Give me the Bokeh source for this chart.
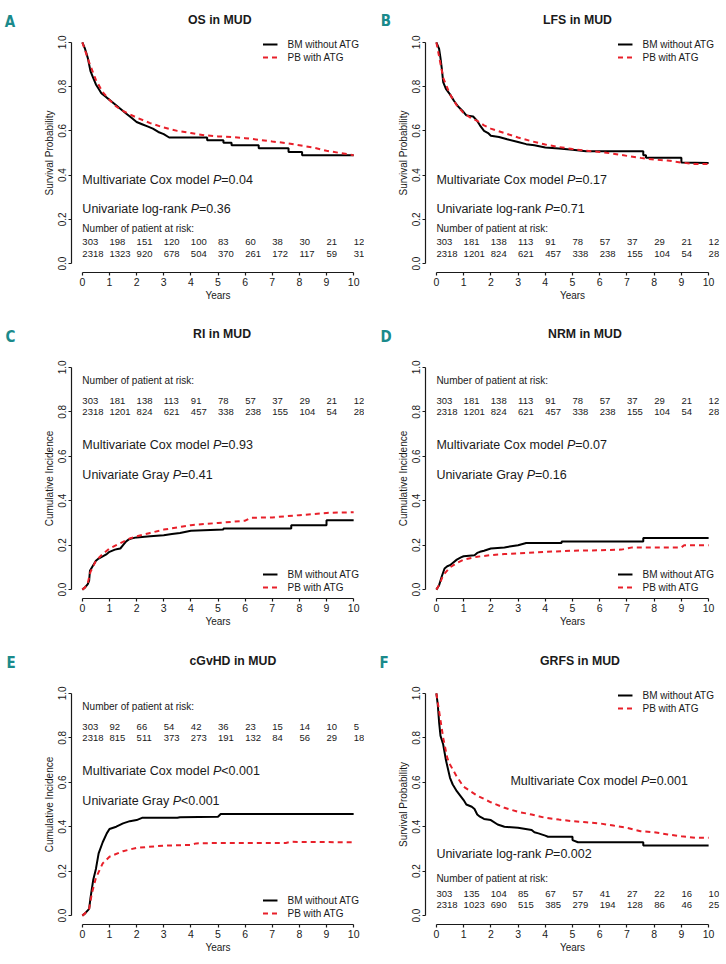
from bokeh.plotting import figure
from bokeh.layouts import column, row
from bokeh.models import (Range1d, FixedTicker, PrintfTickFormatter, Label,
                          Legend, LegendItem, ColumnDataSource, Div)
from bokeh.core.properties import value
from bokeh.embed import file_html
from bokeh.resources import INLINE

# ---------------- data ----------------
years_ticks = list(range(11))

# A: OS
tA_bm = [0, 0.05, 0.1, 0.15, 0.2, 0.25, 0.3, 0.4, 0.5, 0.6, 0.7, 0.85, 1.0, 1.2, 1.4, 1.6, 1.8, 2.0, 2.2, 2.4, 2.6,
         2.8, 3.0, 3.2, 4.6, 4.6, 5.2, 5.2, 5.5, 5.5, 6.5, 6.5, 7.6, 7.6, 8.1, 8.1, 10]
vA_bm = [1.0, 0.985, 0.97, 0.95, 0.93, 0.90, 0.87, 0.84, 0.81, 0.79, 0.77, 0.755, 0.74, 0.72, 0.70, 0.68, 0.66, 0.64,
         0.63, 0.62, 0.61, 0.595, 0.585, 0.57, 0.57, 0.558, 0.558, 0.546, 0.546, 0.535, 0.535, 0.522, 0.522, 0.505,
         0.505, 0.49, 0.49]
tA_pb = [0, 0.25, 0.5, 0.75, 1.0, 1.25, 1.5, 1.75, 2.0, 2.5, 3.0, 3.5, 4.0, 4.5, 5.0, 5.5, 6.0, 6.5, 7.0, 7.5, 8.0,
         8.5, 9.0, 9.5, 10]
vA_pb = [1.0, 0.91, 0.83, 0.775, 0.74, 0.71, 0.69, 0.675, 0.66, 0.635, 0.615, 0.60, 0.59, 0.58, 0.575, 0.572, 0.567,
         0.56, 0.552, 0.545, 0.535, 0.525, 0.51, 0.50, 0.49]

# B: LFS
tB_bm = [0, 0.05, 0.1, 0.15, 0.2, 0.25, 0.35, 0.5, 0.65, 0.8, 1.0, 1.1, 1.35, 1.5, 1.6, 1.75, 1.9, 2.0, 2.3, 2.6,
         3.0, 3.3, 3.6, 4.0, 4.5, 5.0, 5.5, 7.6, 7.6, 7.7, 7.7, 9.0, 9.0, 10]
vB_bm = [1.0, 0.985, 0.97, 0.93, 0.88, 0.82, 0.79, 0.765, 0.735, 0.71, 0.685, 0.67, 0.665, 0.645, 0.625, 0.60, 0.59,
         0.578, 0.572, 0.562, 0.55, 0.54, 0.535, 0.525, 0.52, 0.515, 0.508, 0.508, 0.49, 0.49, 0.478, 0.478, 0.457,
         0.455]
tB_pb = [0, 0.25, 0.5, 0.75, 1.0, 1.25, 1.5, 1.75, 2.0, 2.5, 3.0, 3.5, 4.0, 4.5, 5.0, 5.5, 6.0, 6.5, 7.0, 7.5, 8.0,
         8.5, 9.0, 9.5, 10]
vB_pb = [1.0, 0.84, 0.765, 0.715, 0.68, 0.66, 0.645, 0.625, 0.61, 0.59, 0.57, 0.553, 0.538, 0.527, 0.518, 0.51,
         0.505, 0.497, 0.487, 0.478, 0.47, 0.466, 0.457, 0.45, 0.45]

# C: RI
tC_bm = [0, 0.1, 0.2, 0.25, 0.28, 0.4, 0.5, 0.6, 0.75, 0.9, 1.0, 1.2, 1.3, 1.4, 1.5, 1.6, 1.7, 1.8, 2.0, 2.5, 3.0,
         3.3, 3.6, 4.0, 5.2, 5.2, 7.7, 7.7, 9.0, 9.0, 10]
vC_bm = [0, 0.01, 0.025, 0.04, 0.085, 0.11, 0.13, 0.14, 0.15, 0.16, 0.17, 0.18, 0.183, 0.185, 0.20, 0.215, 0.225,
         0.23, 0.235, 0.24, 0.245, 0.25, 0.255, 0.265, 0.27, 0.275, 0.275, 0.29, 0.29, 0.312, 0.312]
tC_pb = [0, 0.1, 0.2, 0.3, 0.5, 0.75, 1.0, 1.25, 1.5, 1.75, 2.0, 2.5, 3.0, 3.5, 4.0, 4.5, 5.0, 5.5, 6.0, 6.2, 7.0,
         7.5, 8.0, 8.5, 9.0, 9.5, 10]
vC_pb = [0, 0.01, 0.03, 0.08, 0.13, 0.16, 0.185, 0.20, 0.215, 0.23, 0.24, 0.255, 0.27, 0.28, 0.29, 0.295, 0.30,
         0.305, 0.31, 0.323, 0.325, 0.33, 0.335, 0.34, 0.345, 0.347, 0.348]

# D: NRM
tD_bm = [0, 0.1, 0.2, 0.3, 0.4, 0.5, 0.6, 0.75, 0.9, 1.0, 1.4, 1.5, 1.6, 1.75, 2.0, 2.5, 2.75, 3.0, 3.3, 4.6, 4.6,
         7.6, 7.6, 10]
vD_bm = [0, 0.02, 0.06, 0.095, 0.105, 0.11, 0.12, 0.135, 0.145, 0.15, 0.155, 0.165, 0.17, 0.175, 0.185, 0.19, 0.195,
         0.20, 0.21, 0.21, 0.217, 0.217, 0.232, 0.232]
tD_pb = [0, 0.1, 0.25, 0.5, 0.75, 1.0, 1.5, 2.0, 2.5, 3.0, 4.0, 5.0, 6.0, 6.8, 7.2, 9.0, 9.1, 10]
vD_pb = [0, 0.02, 0.065, 0.10, 0.12, 0.135, 0.148, 0.155, 0.16, 0.163, 0.17, 0.175, 0.177, 0.18, 0.19, 0.19, 0.20,
         0.20]

# E: cGvHD
tE_bm = [0, 0.1, 0.25, 0.3, 0.35, 0.4, 0.5, 0.6, 0.75, 0.9, 1.0, 1.25, 1.5, 1.75, 2.0, 2.2, 3.5, 3.6, 5.0, 5.1, 10]
vE_bm = [0, 0.01, 0.03, 0.08, 0.12, 0.16, 0.21, 0.28, 0.33, 0.37, 0.39, 0.40, 0.415, 0.425, 0.43, 0.44, 0.44, 0.443,
         0.445, 0.457, 0.457]
tE_pb = [0, 0.1, 0.25, 0.35, 0.5, 0.75, 1.0, 1.5, 2.0, 3.0, 4.0, 4.2, 5.0, 7.5, 7.7, 10]
vE_pb = [0, 0.01, 0.03, 0.10, 0.17, 0.235, 0.265, 0.29, 0.305, 0.315, 0.318, 0.325, 0.327, 0.327, 0.332, 0.33]

# F: GRFS
tF_bm = [0, 0.05, 0.1, 0.15, 0.25, 0.35, 0.5, 0.6, 0.75, 1.0, 1.1, 1.3, 1.4, 1.5, 1.6, 1.75, 2.0, 2.25, 2.5, 3.0,
         3.5, 3.6, 3.75, 4.0, 4.1, 5.0, 5.0, 5.2, 7.6, 7.6, 10]
vF_bm = [1.0, 0.95, 0.87, 0.81, 0.77, 0.70, 0.62, 0.59, 0.56, 0.52, 0.50, 0.49, 0.48, 0.455, 0.445, 0.435, 0.43,
         0.41, 0.40, 0.395, 0.385, 0.375, 0.37, 0.36, 0.355, 0.355, 0.34, 0.33, 0.33, 0.316, 0.316]
tF_pb = [0, 0.1, 0.25, 0.4, 0.5, 0.75, 1.0, 1.5, 2.0, 2.5, 3.0, 3.5, 4.0, 4.5, 5.0, 5.5, 6.0, 6.5, 7.0, 7.5, 8.0,
         8.5, 9.0, 9.5, 10]
vF_pb = [1.0, 0.92, 0.80, 0.71, 0.68, 0.625, 0.58, 0.54, 0.51, 0.485, 0.467, 0.455, 0.44, 0.432, 0.425, 0.42, 0.415,
         0.405, 0.395, 0.38, 0.375, 0.365, 0.357, 0.35, 0.35]

# numbers at risk
riskA_bm = [303, 198, 151, 120, 100, 83, 60, 38, 30, 21, 12]
riskA_pb = [2318, 1323, 920, 678, 504, 370, 261, 172, 117, 59, 31]
riskBCD_bm = [303, 181, 138, 113, 91, 78, 57, 37, 29, 21, 12]
riskBCD_pb = [2318, 1201, 824, 621, 457, 338, 238, 155, 104, 54, 28]
riskE_bm = [303, 92, 66, 54, 42, 36, 23, 15, 14, 10, 5]
riskE_pb = [2318, 815, 511, 373, 273, 191, 132, 84, 56, 29, 18]
riskF_bm = [303, 135, 104, 85, 67, 57, 41, 27, 22, 16, 10]
riskF_pb = [2318, 1023, 690, 515, 385, 279, 194, 128, 86, 46, 25]

titles = ["OS in MUD", "LFS in MUD", "RI in MUD", "NRM in MUD", "cGvHD in MUD", "GRFS in MUD"]
letters = ["A", "B", "C", "D", "E", "F"]
ylabels = ["Survival Probability", "Survival Probability", "Cumulative Incidence",
           "Cumulative Incidence", "Cumulative Incidence", "Survival Probability"]
multi_p = ["=0.04", "=0.17", "=0.93", "=0.07", "<0.001", "=0.001"]
uni_test = ["Univariate log-rank ", "Univariate log-rank ", "Univariate Gray ", "Univariate Gray ",
            "Univariate Gray ", "Univariate log-rank "]
uni_p = ["=0.36", "=0.71", "=0.41", "=0.16", "<0.001", "=0.002"]
series_names = ["BM without ATG", "PB with ATG"]

# ---------------- styling / layout ----------------
FONT = "Liberation Sans"
TEAL = "#1a8a8b"
RED = "#e8202a"
INK = "#1a1a1a"

# Arial-compatible advance widths (1/1000 em) for offset of italic P
AW = {' ': 278, 'M': 833, 'u': 556, 'l': 222, 't': 278, 'i': 222, 'v': 500, 'a': 556, 'r': 333, 'e': 556,
      'C': 722, 'o': 556, 'x': 500, 'm': 833, 'd': 556, 'U': 722, 'n': 556, 'g': 556, '-': 333, 'k': 500,
      'G': 778, 'y': 500, 'P': 667}


def twidth(s, size):
    return sum(AW.get(c, 556) for c in s) / 1000.0 * size


# figure geometry: w, h, min borders (left, right, top, bottom)
layout = [
    dict(w=364, h=280, l=71, r=0, t=3, b=38),
    dict(w=362, h=280, l=61, r=7, t=3, b=38),
    dict(w=364, h=282, l=71, r=0, t=8, b=34),
    dict(w=362, h=282, l=61, r=7, t=8, b=34),
    dict(w=364, h=284, l=71, r=0, t=8, b=36),
    dict(w=362, h=284, l=61, r=7, t=8, b=36),
]
# header strips (letters + titles), per row: height, letter centre x, letter top, title left, title top
headers = [
    dict(h=30, letters=[(10, 14.5), (386, 13.5)], titles=[(188, 13.9), (543, 13.9)]),
    dict(h=40, letters=[(10.5, 20), (386, 20)], titles=[(193, 17.9), (548, 17.9)]),
    dict(h=44, letters=[(11, 23.5), (384, 23.5)], titles=[(189.5, 22.5), (540, 22.5)]),
]
# annotation placement inside the plot (data units)
ann = [
    dict(multi=(0, 0.376), uni=(0, 0.248), head=0.158, rows=(0.097, 0.045), leg="top_right"),
    dict(multi=(0, 0.376), uni=(0, 0.248), head=0.158, rows=(0.097, 0.045), leg="top_right"),
    dict(multi=(0, 0.65), uni=(0, 0.515), head=0.94, rows=(0.85, 0.80), leg="bottom_right"),
    dict(multi=(0, 0.65), uni=(0, 0.515), head=0.94, rows=(0.85, 0.80), leg="bottom_right"),
    dict(multi=(0, 0.65), uni=(0, 0.517), head=0.94, rows=(0.847, 0.798), leg="bottom_right"),
    dict(multi=(2.72, 0.607), uni=(0, 0.277), head=0.165, rows=(0.097, 0.046), leg="top_right"),
]

curves = [
    (tA_bm, vA_bm, tA_pb, vA_pb),
    (tB_bm, vB_bm, tB_pb, vB_pb),
    (tC_bm, vC_bm, tC_pb, vC_pb),
    (tD_bm, vD_bm, tD_pb, vD_pb),
    (tE_bm, vE_bm, tE_pb, vE_pb),
    (tF_bm, vF_bm, tF_pb, vF_pb),
]
risks = [(riskA_bm, riskA_pb), (riskBCD_bm, riskBCD_pb), (riskBCD_bm, riskBCD_pb),
         (riskBCD_bm, riskBCD_pb), (riskE_bm, riskE_pb), (riskF_bm, riskF_pb)]

BIG = 12.5


def add_label(p, x, y, text, size, style="normal", x_offset=0, color=INK, font=FONT, align="left"):
    p.add_layout(Label(x=x, y=y, text=text, x_offset=x_offset, text_font=font,
                       text_font_size=f"{size}px", text_font_style=style, text_color=color,
                       text_align=align, text_baseline="middle"))


def p_text(p, x, y, prefix, pval):
    add_label(p, x, y, prefix, BIG)
    w1 = twidth(prefix, BIG)
    add_label(p, x, y, "P", BIG, style="italic", x_offset=w1)
    add_label(p, x, y, pval, BIG, x_offset=w1 + twidth("P", BIG))


def make_panel(i):
    L = layout[i]
    A = ann[i]
    p = figure(width=L["w"], height=L["h"], x_range=Range1d(-0.4, 10.4), y_range=Range1d(-0.04, 1.04),
               output_backend="svg", toolbar_location=None, tools="",
               min_border_left=L["l"], min_border_right=L["r"], min_border_top=L["t"],
               min_border_bottom=L["b"])
    p.outline_line_color = None
    p.xgrid.visible = False
    p.ygrid.visible = False
    p.background_fill_color = "white"
    p.border_fill_color = "white"

    p.xaxis.ticker = FixedTicker(ticks=years_ticks)
    p.yaxis.ticker = FixedTicker(ticks=[0, 0.2, 0.4, 0.6, 0.8, 1.0])
    p.yaxis.formatter = PrintfTickFormatter(format="%.1f")
    p.xaxis.bounds = (0, 10)
    p.yaxis.bounds = (0, 1)
    p.yaxis.major_label_orientation = "vertical"
    p.xaxis.axis_label = "Years"
    p.yaxis.axis_label = ylabels[i]
    for ax in (p.xaxis, p.yaxis):
        ax.axis_line_width = 1.2
        ax.axis_line_color = INK
        ax.major_tick_line_color = INK
        ax.major_tick_line_width = 1.2
        ax.major_tick_out = 3
        ax.major_tick_in = 0
        ax.minor_tick_line_color = None
        ax.major_label_text_font = FONT
        ax.major_label_text_color = INK
        ax.axis_label_text_font = FONT
        ax.axis_label_text_font_style = "normal"
        ax.axis_label_text_font_size = "10px"
        ax.axis_label_text_color = INK
        ax.axis_label_standoff = 1
        ax.major_label_standoff = 2
    p.xaxis.major_label_text_font_size = "10.5px"
    p.yaxis.major_label_text_font_size = "10px"

    tb, vb, tp, vp = curves[i]
    r_bm = p.line(tb, vb, line_color="black", line_width=2)
    r_pb = p.line(tp, vp, line_color=RED, line_width=2, line_dash="5 4")

    leg = Legend(items=[LegendItem(label=series_names[0], renderers=[r_bm]),
                        LegendItem(label=series_names[1], renderers=[r_pb])],
                 location=A["leg"], border_line_alpha=0, background_fill_alpha=0,
                 label_text_font=FONT, label_text_font_size="10px", label_text_color=INK,
                 glyph_width=15, glyph_height=12, label_height=12, label_standoff=10,
                 spacing=1, padding=0, margin=5)
    p.add_layout(leg)

    # p-value texts
    p_text(p, A["multi"][0], A["multi"][1], "Multivariate Cox model ", multi_p[i])
    p_text(p, A["uni"][0], A["uni"][1], uni_test[i], uni_p[i])

    # number at risk
    add_label(p, 0, A["head"], "Number of patient at risk:", 10)
    rb, rp = risks[i]
    src = ColumnDataSource(dict(
        x=years_ticks + years_ticks,
        y=[A["rows"][0]] * len(rb) + [A["rows"][1]] * len(rp),
        t=[str(v) for v in rb] + [str(v) for v in rp]))
    p.text(x="x", y="y", text="t", source=src, text_font=value(FONT), text_font_size="9.5px",
           text_color=INK, text_align="left", text_baseline="middle")
    return p


def header(r):
    H = headers[r]
    spans = []
    for k in range(2):
        idx = 2 * r + k
        cx, top = H["letters"][k]
        spans.append(
            f'<span style="position:absolute;left:{cx - 10}px;top:{top}px;width:20px;text-align:center;'
            f"font-family:'Liberation Sans Narrow','DejaVu Sans Condensed',sans-serif;font-weight:bold;"
            f'font-size:15px;line-height:1;color:{TEAL};white-space:nowrap">{letters[idx]}</span>')
        tx, ttop = H["titles"][k]
        spans.append(
            f'<span style="position:absolute;left:{tx}px;top:{ttop}px;'
            f"font-family:'Liberation Sans',Arial,sans-serif;font-weight:bold;font-size:12.3px;"
            f'line-height:1;color:{INK};white-space:nowrap">{titles[idx]}</span>')
    html = (f'<div style="position:relative;width:726px;height:{H["h"]}px;margin:0;padding:0">'
            + "".join(spans) + "</div>")
    return Div(text=html, width=726, height=H["h"], margin=0)


panels = [make_panel(i) for i in range(6)]
page = column(header(0), row(panels[0], panels[1]),
              header(1), row(panels[2], panels[3]),
              header(2), row(panels[4], panels[5]))

open("out.html", "w").write(file_html(page, INLINE))
